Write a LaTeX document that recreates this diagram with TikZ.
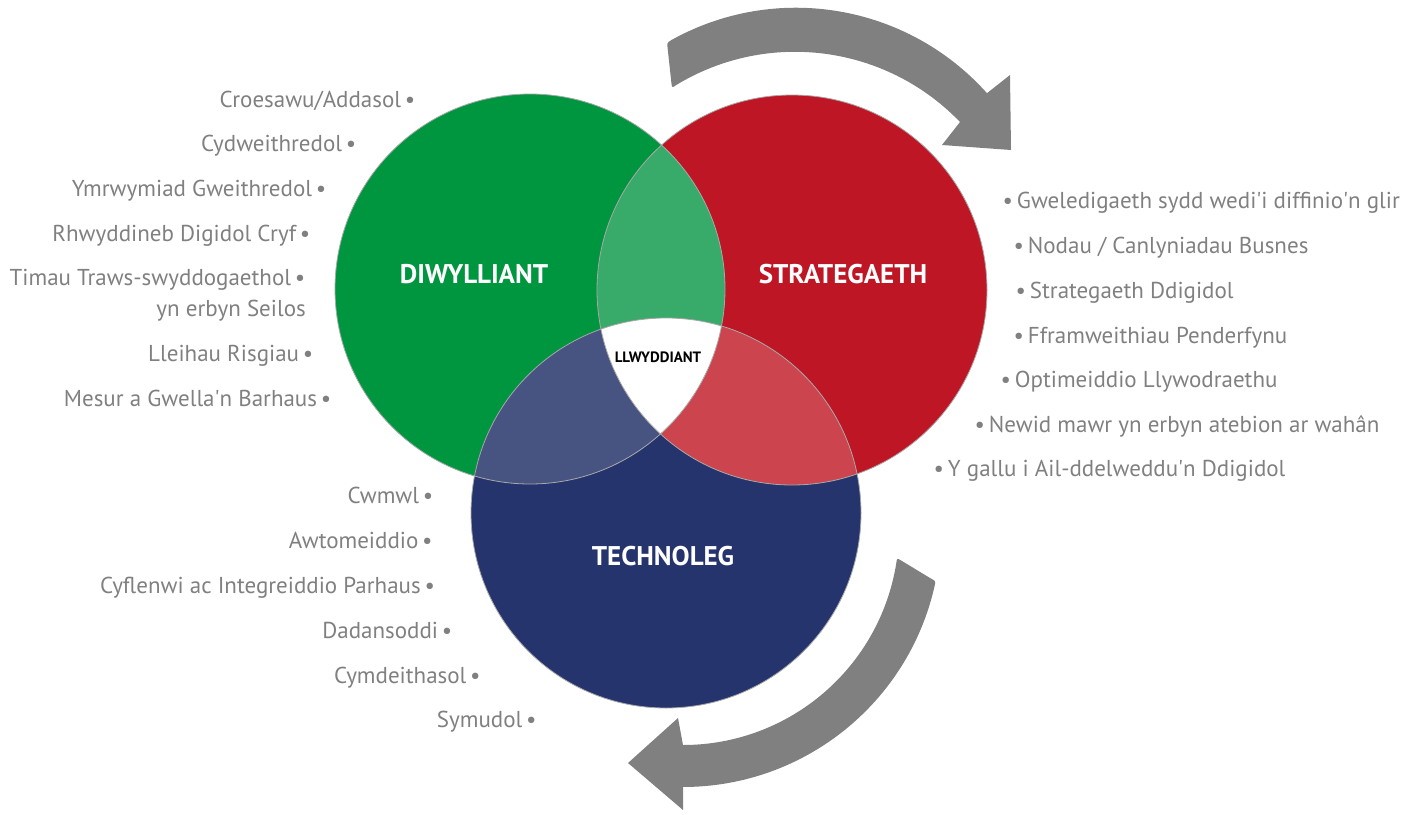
\documentclass[tikz,border=0pt]{standalone}
\usepackage{fontspec}
\setmainfont{PT Sans}
\definecolor{cgreen}{HTML}{009640}
\definecolor{cred}{HTML}{BE1624}
\definecolor{cblue}{HTML}{25346C}
\definecolor{lgreen}{HTML}{38AB6A}
\definecolor{lslate}{HTML}{475482}
\definecolor{lred}{HTML}{CC454E}
\definecolor{txtgray}{HTML}{808080}
\definecolor{arrowgray}{HTML}{808080}
\definecolor{outline}{HTML}{A8A8A8}
\newcommand{\apos}{\textquotesingle}
\begin{document}
\begin{tikzpicture}[x=1pt,y=-1pt,
  item/.style={text=txtgray, inner sep=0pt, font=\fontsize{23}{27}\selectfont},
  litem/.style={item, anchor=base east},
  ritem/.style={item, anchor=base west},
  title/.style={text=white, inner sep=0pt, font=\fontsize{27}{31}\selectfont\bfseries},
  circ/.style={draw=outline, line width=0.8pt}]
\useasboundingbox (0,0) rectangle (1408,814);
\coordinate (G) at (530,289);
\coordinate (R) at (792,290);
\coordinate (B) at (666,513);
% base circles
\fill[cgreen] (G) circle[radius=195];
\fill[cred] (R) circle[radius=195];
\fill[cblue] (B) circle[radius=195];
% overlaps
\begin{scope}
  \clip (G) circle[radius=195];
  \fill[lgreen] (R) circle[radius=195];
  \fill[lslate] (B) circle[radius=195];
\end{scope}
\begin{scope}
  \clip (R) circle[radius=195];
  \fill[lred] (B) circle[radius=195];
\end{scope}
\begin{scope}
  \clip (G) circle[radius=195];
  \clip (R) circle[radius=195];
  \fill[white] (B) circle[radius=195];
\end{scope}
\draw[circ] (G) circle[radius=195];
\draw[circ] (R) circle[radius=195];
\draw[circ] (B) circle[radius=195];
% titles
\node[title] (diw) at (474,274) {DIWYLLIANT};
\node[title] (str) at (843,274) {STRATEGAETH};
\node[title] (tec) at (663,556) {TECHNOLEG};
\node[inner sep=0pt, font=\fontsize{15}{17}\selectfont\bfseries] (llw) at (658,357) {LLWYDDIANT};
% arrows
\fill[arrowgray] (670.9,40.3) arc[start angle=-119.2, end angle=-41.8, radius=256.3]
  -- (1010,75) -- (1011,150) -- (942,145) -- (960,122)
  arc[start angle=-43.9, end angle=-121.25, radius=229]
  .. controls (672,88) .. (671.4,83) -- (667.6,48)
  .. controls (667,43) .. (670.9,40.3) -- cycle;
\fill[arrowgray] (934.6,586) arc[start angle=12.77, end angle=90, radius=258]
  -- (683,810) -- (628,763) -- (678,718) -- (683,745)
  arc[start angle=90, end angle=9, radius=216]
  .. controls (897,558) .. (901.3,560.6) -- (930.7,578.4)
  .. controls (935.7,581.1) .. (934.6,586) -- cycle;
% left list
\node[litem] (croes) at (415.5,107) {Croesawu/Addasol\,•};
\node[litem] (cydw) at (356.5,151.7) {Cydweithredol\,•};
\node[litem] (ymrw) at (326.5,196.7) {Ymrwymiad Gweithredol\,•};
\node[litem] (rhwy) at (310.5,241.7) {Rhwyddineb Digidol Cryf\,•};
\node[litem] (timau) at (305.5,285.7) {Timau Traws-swyddogaethol\,•};
\node[litem] (seilos) at (306,316) {yn erbyn Seilos};
\node[litem] (lleih) at (313.5,361.7) {Lleihau Risgiau\,•};
\node[litem] (mesur) at (331.5,406) {Mesur a Gwella\apos n Barhaus\,•};
% bottom-left list
\node[litem] (cwmwl) at (433.5,503.3) {Cwmwl\,•};
\node[litem] (awto) at (432.8,548.3) {Awtomeiddio\,•};
\node[litem] (cyfl) at (435.2,593.3) {Cyflenwi ac Integreiddio Parhaus\,•};
\node[litem] (dada) at (452.5,638.3) {Dadansoddi\,•};
\node[litem] (cymd) at (480.8,683.3) {Cymdeithasol\,•};
\node[litem] (symu) at (536.8,727.7) {Symudol\,•};
% right list
\node[ritem] (gwel) at (1002.5,208.3) {•\,Gweledigaeth sydd wedi\apos i diffinio\apos n glir};
\node[ritem] (noda) at (1013.5,253.3) {•\,Nodau / Canlyniadau Busnes};
\node[ritem] (stra) at (1015.5,298.3) {•\,Strategaeth Ddigidol};
\node[ritem] (ffra) at (1013.5,343.3) {•\,Fframweithiau Penderfynu};
\node[ritem] (opti) at (1000.5,387.3) {•\,Optimeiddio Llywodraethu};
\node[ritem] (newi) at (974.5,432.3) {•\,Newid mawr yn erbyn atebion ar wahân};
\node[ritem] (ygal) at (933.5,476.7) {•\,Y gallu i Ail-ddelweddu\apos n Ddigidol};
\end{tikzpicture}
\end{document}
